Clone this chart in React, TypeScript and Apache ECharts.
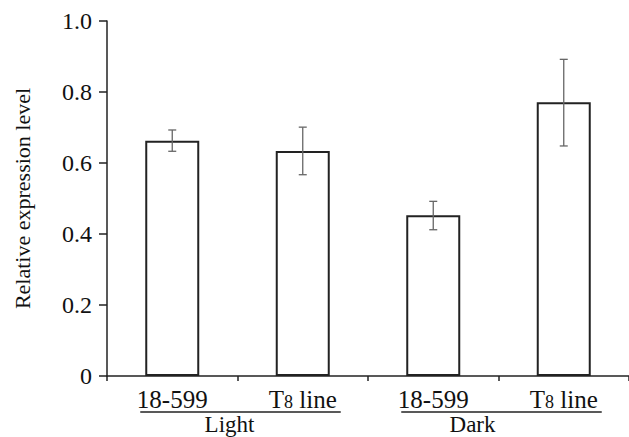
import React, { useEffect, useRef } from "react";
import * as echarts from "echarts";

const categories = ["18-599", "T8 line", "18-599", "T8 line"];
const meanValues = [0.663, 0.634, 0.453, 0.771];
const errLow = [0.633, 0.567, 0.412, 0.648];
const errHigh = [0.693, 0.701, 0.492, 0.892];
const yTickLabels = ["0", "0.2", "0.4", "0.6", "0.8", "1.0"];
const groups = [
  { name: "Light", from: 0, to: 1 },
  { name: "Dark", from: 2, to: 3 },
];

const FONT = "'Liberation Serif', 'Times New Roman', serif";

function fmtCategory(v: string): string {
  if (v.startsWith("T8")) return "{t|T}{sub|8}{t|" + v.slice(2) + "}";
  return "{t|" + v + "}";
}

export default function App() {
  const ref = useRef<HTMLDivElement>(null);
  useEffect(() => {
    document.body.style.margin = "0";
    const chart = echarts.init(ref.current!, null, { renderer: "svg" });
    const option: any = {
      animation: false,
      backgroundColor: "#ffffff",
      textStyle: { fontFamily: FONT },
      grid: { left: 107, top: 21, height: 355, width: 532, containLabel: false },
      xAxis: {
        type: "category",
        data: categories,
        axisLine: { lineStyle: { color: "#222", width: 1.5 } },
        axisTick: { show: true, length: 5, lineStyle: { color: "#222", width: 1.5 } },
        axisLabel: {
          interval: 0,
          hideOverlap: false,
          margin: 11,
          fontFamily: FONT,
          fontSize: 25,
          color: "#111",
          formatter: fmtCategory,
          rich: {
            t: { fontSize: 25, fontFamily: FONT, color: "#111" },
            sub: { fontSize: 18, fontFamily: FONT, color: "#111", verticalAlign: "bottom", padding: [0, 0, 1, 0] },
          },
        },
        splitLine: { show: false },
      },
      yAxis: {
        type: "value",
        min: 0,
        max: 1,
        interval: 0.2,
        name: "Relative expression level",
        nameLocation: "middle",
        nameRotate: 90,
        nameGap: 74,
        nameTextStyle: { fontFamily: FONT, fontSize: 22, color: "#111" },
        axisLine: { show: true, lineStyle: { color: "#222", width: 1.5 } },
        axisTick: { show: true, inside: false, length: 8, lineStyle: { color: "#222", width: 1.5 } },
        axisLabel: {
          margin: 15,
          fontFamily: FONT,
          fontSize: 24,
          color: "#111",
          formatter: (_v: number, i: number) => yTickLabels[i],
        },
        splitLine: { show: false },
      },
      series: [
        {
          type: "bar",
          data: meanValues,
          barWidth: 54,
          itemStyle: { color: "#ffffff", borderColor: "#222", borderWidth: 2 },
        },
        {
          type: "custom",
          data: errLow.map((lo, i) => [i, lo, errHigh[i]]),
          renderItem: (params: any, api: any) => {
            const x = api.value(0);
            const lo = api.coord([x, api.value(1)]);
            const hi = api.coord([x, api.value(2)]);
            const hw = 4;
            const style = { stroke: "#666", lineWidth: 1.3 };
            return {
              type: "group",
              children: [
                { type: "line", shape: { x1: lo[0], y1: lo[1], x2: hi[0], y2: hi[1] }, style },
                { type: "line", shape: { x1: hi[0] - hw, y1: hi[1], x2: hi[0] + hw, y2: hi[1] }, style },
                { type: "line", shape: { x1: lo[0] - hw, y1: lo[1], x2: lo[0] + hw, y2: lo[1] }, style },
              ],
            };
          },
          z: 5,
        },
      ],
    };
    chart.setOption(option);

    const graphics: any[] = [];
    groups.forEach((g, gi) => {
      const x1 = chart.convertToPixel({ xAxisIndex: 0 }, g.from) as number;
      const x2 = chart.convertToPixel({ xAxisIndex: 0 }, g.to) as number;
      const left = x1 - 32;
      const right = x2 + 38;
      graphics.push({
        type: "line",
        shape: { x1: left, y1: 412, x2: right, y2: 412 },
        style: { stroke: "#222", lineWidth: 1.5 },
      });
      graphics.push({
        type: "text",
        x: gi === 0 ? (left + right) / 2 - 11 : (left + right) / 2 - 29,
        y: 424.5,
        style: {
          text: g.name,
          fontFamily: FONT,
          fontSize: 23,
          fill: "#111",
          align: "center",
          verticalAlign: "middle",
        },
      });
    });
    chart.setOption({ graphic: graphics });

    return () => chart.dispose();
  }, []);
  return <div ref={ref} style={{ width: 629, height: 437 }} />;
}
